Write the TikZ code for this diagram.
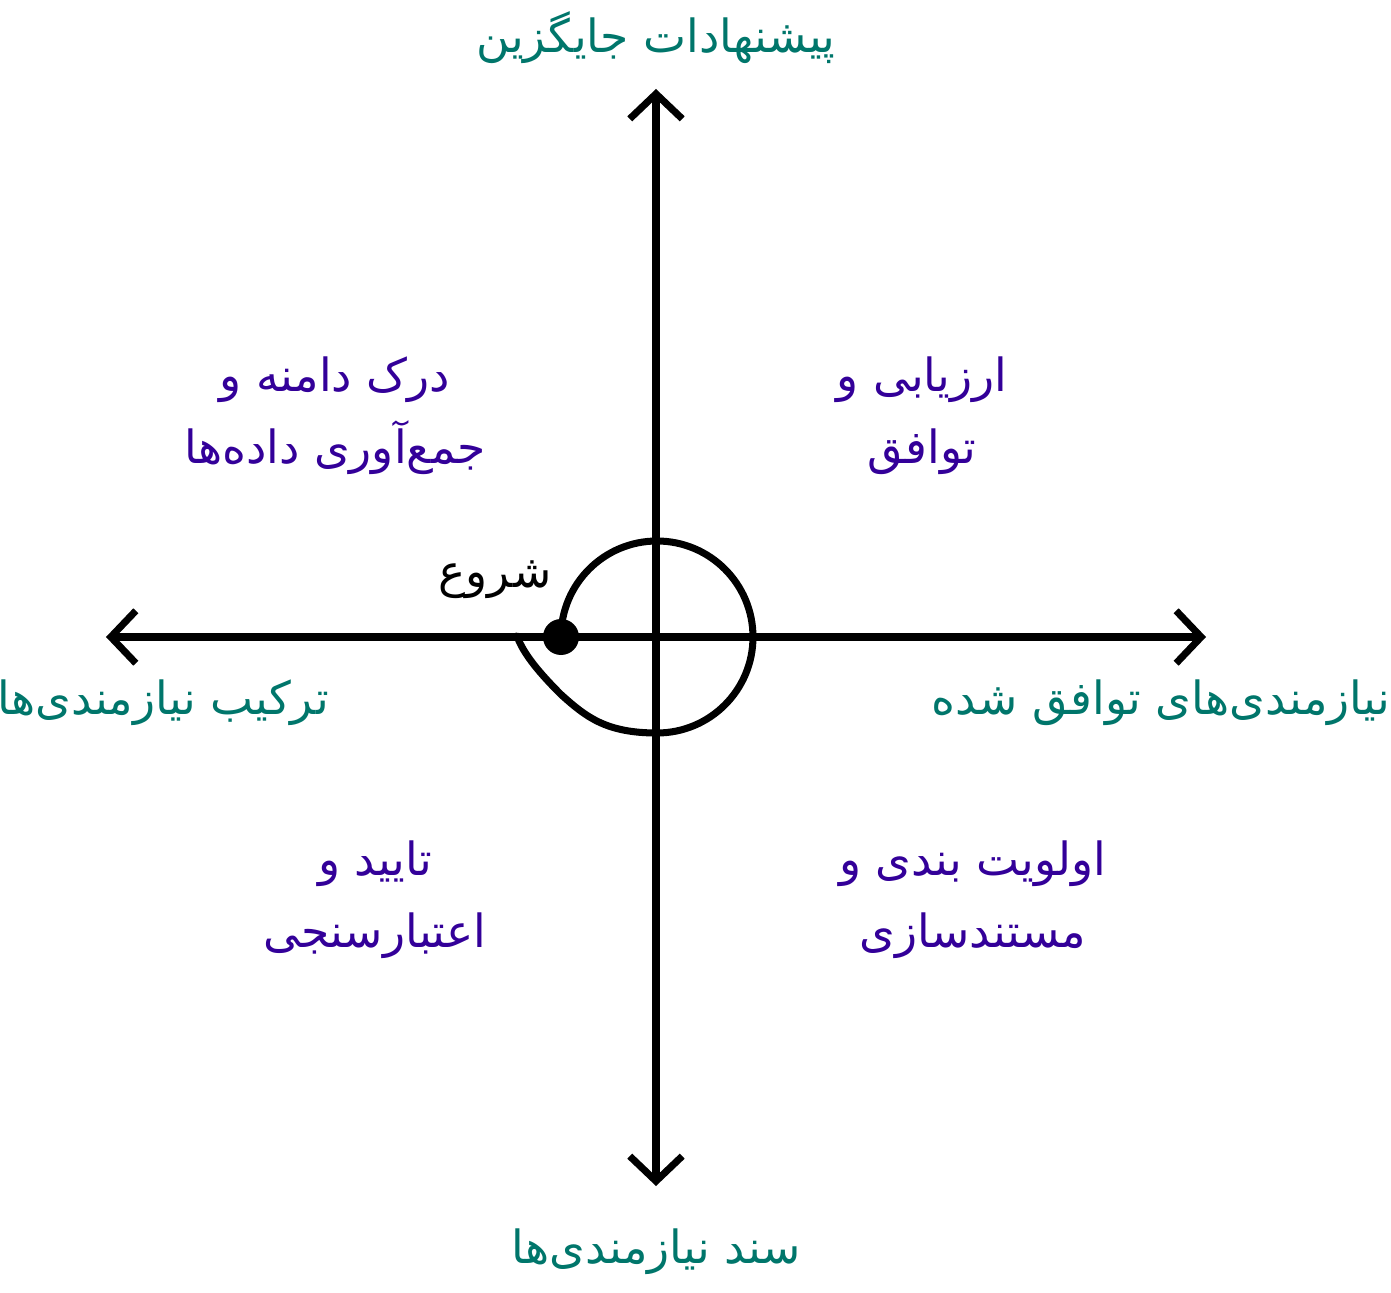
\documentclass[tikz,border=0pt]{standalone}
\usepackage{fontspec}
\usepackage{tikz}
\usetikzlibrary{arrows.meta}
\TeXXeTstate=1
\newfontfamily\arabicfont[Script=Arabic]{DejaVu Sans}
\newcommand{\fatext}[1]{\beginR #1\endR}
\definecolor{axisteal}{RGB}{0,118,107}
\definecolor{stagepurple}{RGB}{51,0,153}

\begin{document}
\begin{tikzpicture}[
  every node/.style={font=\arabicfont\fontsize{26}{41}\selectfont},
  axis/.style={line width=4pt, line cap=round, line join=round,
               {Straight Barb[length=5mm, width=10.5mm]}-{Straight Barb[length=5mm, width=10.5mm]}},
  pole/.style={text=axisteal},
  stage/.style={text=stagepurple, align=center},
]
  \useasboundingbox (-13.12,-13.12) rectangle (14.7,12.74);

  \coordinate (o) at (0,0);
  \coordinate (west) at (-11.0,0);
  \coordinate (east) at (11.0,0);
  \coordinate (north) at (0,10.96);
  \coordinate (south) at (0,-10.98);

  \draw[axis] (west) -- (east);
  \draw[axis] (south) -- (north);

  % spiral from the start point
  \coordinate (start) at (-1.9,0);
  \draw[line width=4pt, line cap=round] (start)
    arc[start angle=180, end angle=-90, radius=1.92]
    .. controls (-1,-1.92) and (-1.4,-1.6) .. (-1.9,-1.15)
    .. controls (-2.3,-0.75) and (-2.65,-0.35) .. (-2.78,0.02);
  \fill (start) circle (0.36);

  \node (begin) at (-3.22,1.14) {\fatext{شروع}};

  \node[pole] (alt) at (0,11.98) {\fatext{پیشنهادات جایگزین}};
  \node[pole] (doc) at (0,-12.3) {\fatext{سند نیازمندی‌ها}};
  \node[pole] (synth) at (-9.86,-1.32) {\fatext{ترکیب نیازمندی‌ها}};
  \node[pole] (agreed) at (10.1,-1.32) {\fatext{نیازمندی‌های توافق شده}};

  \node[stage] (domain) at (-6.42,4.42) {\fatext{درک دامنه و}\\\fatext{جمع‌آوری داده‌ها}};
  \node[stage] (assess) at (5.32,4.42) {\fatext{ارزیابی و}\\\fatext{توافق}};
  \node[stage] (verify) at (-5.62,-5.26) {\fatext{تایید و}\\\fatext{اعتبارسنجی}};
  \node[stage] (prior) at (6.34,-5.26) {\fatext{اولویت بندی و}\\\fatext{مستندسازی}};
\end{tikzpicture}
\end{document}
